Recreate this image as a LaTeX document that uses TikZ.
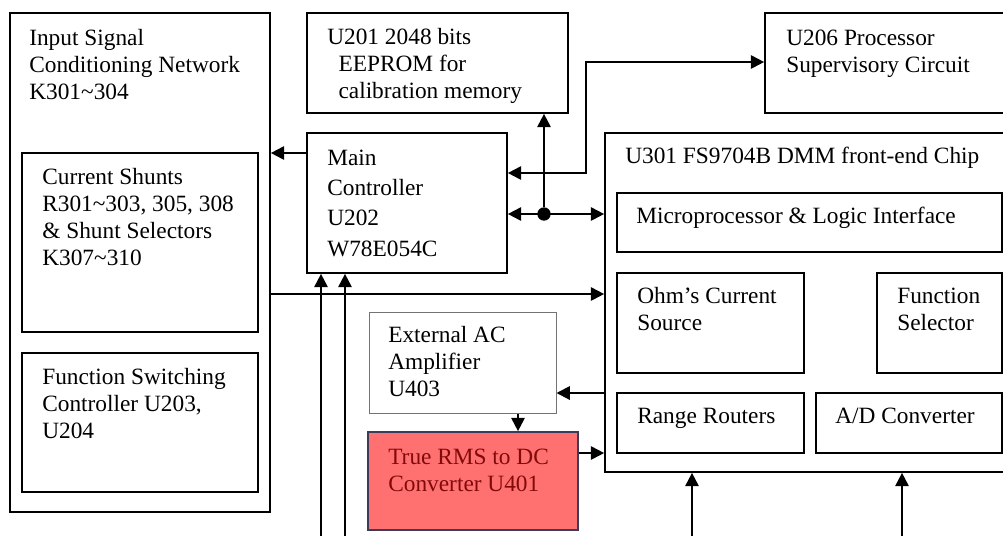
\documentclass[tikz,border=0pt]{standalone}
\usepackage{fontspec}
\setmainfont{Liberation Serif}
\usetikzlibrary{positioning, arrows.meta, fit}
\definecolor{rmsred}{RGB}{255, 112, 112}
\definecolor{rmstext}{RGB}{130, 10, 10}
\definecolor{rmsedge}{RGB}{60, 60, 90}
\newcommand{\blines}[1]{\begin{tabular}[t]{@{}l@{}}#1\end{tabular}}

\begin{document}
\begin{tikzpicture}[x=0.025cm, y=-0.025cm,
    font=\fontsize{16.6}{19.4}\selectfont,
    >={Triangle[length=9.5pt, width=9.5pt]},
    blk/.style={draw, line width=1.2pt, inner sep=0pt},
    txt/.style={anchor=base west, inner sep=0pt},
    wire/.style={line width=1.4pt},
    dot/.style={circle, fill, inner sep=0pt, minimum size=9.5pt}]

  \useasboundingbox (0,0) rectangle (1003,535);
  \clip (0,0) rectangle (1003,535);

  % Input side
  \node[blk, fit={(10,13) (270,512)}] (isc) {};
  \node[txt] (isc-t) at (29,45) {\blines{Input Signal\\Conditioning Network\\K301\textasciitilde304}};
  \node[blk, fit={(22,153) (258,332)}] (shunt) {};
  \node[txt] (shunt-t) at (42,184)
        {\blines{Current Shunts\\R301\textasciitilde303, 305, 308\\\& Shunt Selectors\\K307\textasciitilde310}};
  \node[blk, fit={(22,353) (258,492)}] (fsw) {};
  \node[txt] (fsw-t) at (42,384) {\blines{Function Switching\\Controller U203,\\U204}};

  % Controller and memory
  \node[blk, fit={(307,13) (568,113)}] (eeprom) {};
  \node[txt] (eeprom-t) at (327,44)
        {\blines{U201 2048 bits\\\hspace*{8pt}EEPROM for\\\hspace*{8pt}calibration memory}};
  \node[blk, fit={(307,133) (507,273)}] (main) {};
  \node[txt, font=\fontsize{16.6}{21.6}\selectfont] (main-t) at (327,165)
        {\blines{Main\\Controller\\U202\\W78E054C}};
  \node[blk, fit={(765,13) (1015,113)}] (sup) {};
  \node[txt] (sup-t) at (786,45) {\blines{U206 Processor\\Supervisory Circuit}};

  % AC path
  \node[blk, draw=black!55, line width=0.7pt, fit={(369,312) (556,413)}] (extac) {};
  \node[txt] (extac-t) at (388,342) {\blines{External AC\\Amplifier\\U403}};
  \node[blk, fill=rmsred, draw=rmsedge, fit={(368,432) (578,530)}] (rms) {};
  \node[txt, text=rmstext] (rms-t) at (388,464) {\blines{True RMS to DC\\Converter U401}};

  % Front-end chip and its blocks
  \node[blk, fit={(605,133) (1015,472)}] (dmm) {};
  \node[txt] (dmm-t) at (625,163) {U301 FS9704B DMM front-end Chip};
  \foreach \n/\a/\b/\c/\d in {micro/617/193/1002/252, ohm/617/273/804/373,
      fsel/877/273/1002/373, range/617/393/804/453, adc/816/393/1002/453}{
    \node[blk, fit={(\a,\b) (\c,\d)}] (\n) {};
  }
  \node[txt] (micro-t) at (636,223) {Microprocessor \& Logic Interface};
  \node[txt] (ohm-t) at (637,303) {\blines{Ohm's Current\\Source}};
  \node[txt] (fsel-t) at (897,303) {\blines{Function\\Selector}};
  \node[txt] (range-t) at (637,423) {Range Routers};
  \node[txt] (adc-t) at (835,423) {A/D Converter};

  % Connections
  \node[dot] (jn) at (544,214) {};
  \coordinate (bend) at (586,62);
  \draw[wire, ->] (main.west |- 0,153) -- (isc.east |- 0,153);
  \draw[wire, ->] (isc.east |- 0,294) -- (dmm.west |- 0,294);
  \draw[wire, <->] (main.east |- jn) -- (dmm.west |- jn);
  \draw[wire, ->] (jn) -- (jn |- eeprom.south);
  \draw[wire, <->] (main.east |- 0,173) -| (bend) -- (sup.west |- bend);
  \draw[wire, ->] (dmm.west |- 0,393) -- (extac.east |- 0,393);
  \draw[wire, ->] (extac.south -| 518,0) -- (rms.north -| 518,0);
  \draw[wire, ->] (rms.east |- 0,453) -- (dmm.west |- 0,453);

  % Inputs from below
  \foreach \x/\n in {321/in1, 345/in2}{
    \coordinate (\n) at (\x,545);
    \draw[wire, ->] (\n) -- (\n |- main.south);
  }
  \foreach \x/\n in {692/in3, 902/in4}{
    \coordinate (\n) at (\x,545);
    \draw[wire, ->] (\n) -- (\n |- dmm.south);
  }
\end{tikzpicture}
\end{document}
